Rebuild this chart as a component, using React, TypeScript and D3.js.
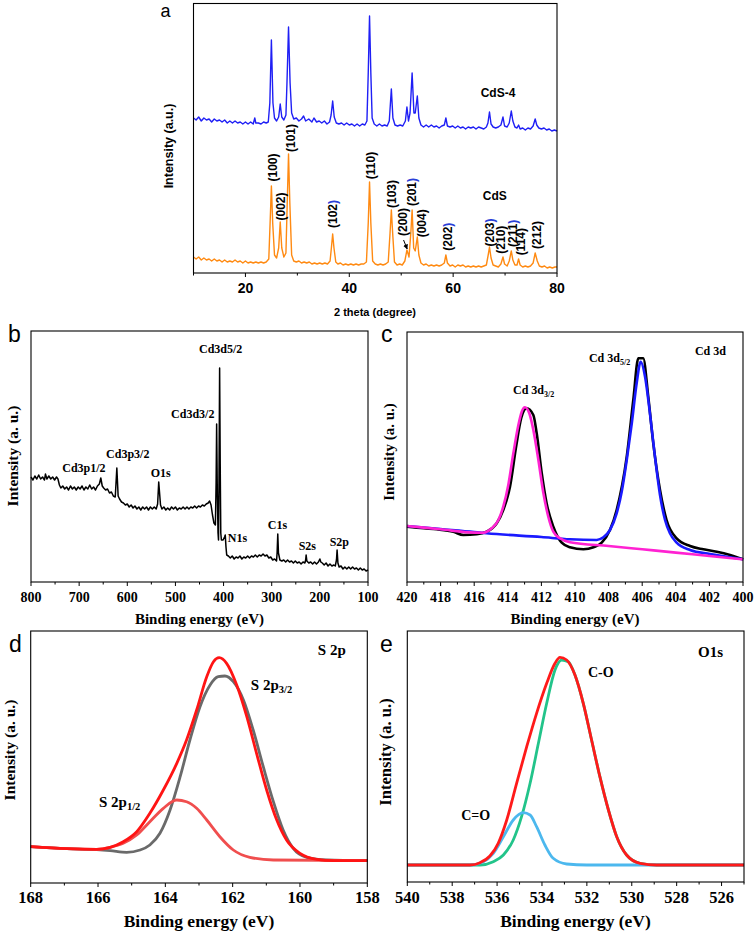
import React from 'react';
import * as d3 from 'd3';

type Pt = [number, number];

// ---------- Panel a: XRD ----------
const xrdCdS4: Pt[] = [
  [10,155],[10.5,153],[11,156],[11.5,152],[12,155],[12.5,153],[13,154],[13.5,151],[14,154],[14.5,152],[15,153],[15.5,151],[16,153],[16.5,150],[17,152],[17.5,150],[18,152],[18.5,150],[19,151],[19.5,149],[20,151],[20.5,149],[21,151],[21.5,149],[21.8,155],[22,150],[22.5,150],[23,149],[23.5,151],[24,150],[24.4,151],[24.7,170],[25.0,233],[25.3,170],[25.6,155],[26.0,152],[26.4,156],[26.7,169],[27.0,156],[27.4,153],[27.8,158],[28.0,190],[28.3,246],[28.6,190],[28.9,160],[29.3,154],[29.8,155],[30.3,152],[30.8,154],[31.2,157],[31.6,152],[32.2,154],[32.8,151],[33.2,155],[33.7,151],[34.2,152],[34.7,150],[35.2,152],[35.7,149],[36.2,151],[36.5,158],[36.8,172],[37.1,156],[37.5,150],[38,149],[38.5,150],[39,148],[39.5,150],[40,148],[40.5,149],[41,147],[41.5,149],[42,147],[42.5,149],[43,148],[43.4,152],[43.65,200],[43.9,257],[44.15,200],[44.4,155],[44.8,149],[45.3,147],[45.8,149],[46.3,147],[46.8,148],[47.3,147],[47.7,152],[48.1,184],[48.4,155],[48.8,148],[49.3,147],[49.8,148],[50.3,147],[50.8,152],[51.1,166],[51.4,152],[51.7,160],[52.1,200],[52.45,160],[52.7,160],[53.1,177],[53.4,155],[53.8,148],[54.3,146],[54.8,148],[55.3,146],[55.8,148],[56.3,146],[56.8,147],[57.3,145],[57.8,147],[58.3,148],[58.6,155],[58.9,147],[59.4,146],[59.9,147],[60.4,145],[60.9,147],[61.4,145],[61.9,146],[62.4,144],[62.9,146],[63.4,145],[63.9,146],[64.4,144],[64.9,146],[65.4,145],[65.9,144],[66.4,146],[66.7,150],[67.0,161],[67.3,149],[67.7,146],[68.2,145],[68.7,146],[69.2,148],[69.6,156],[69.9,147],[70.4,146],[70.8,150],[71.2,162],[71.5,152],[71.9,146],[72.3,145],[72.6,148],[72.9,144],[73.4,145],[73.9,143],[74.4,145],[74.9,144],[75.4,147],[75.8,154],[76.1,148],[76.5,145],[77,144],[77.5,145],[78,143],[78.5,144],[79,142],[79.5,143],[80,142]
];
const xrdCdS: Pt[] = [
  [10,16],[10.5,14],[11,16],[11.5,13],[12,15],[12.5,13],[13,14],[13.5,12],[14,14],[14.5,12],[15,13],[15.5,11],[16,13],[16.5,11],[17,12],[17.5,11],[18,13],[18.5,11],[19,12],[19.5,10],[20,12],[20.5,10],[21,11],[21.5,10],[22,11],[22.5,10],[23,11],[23.5,10],[24,11],[24.5,14],[24.75,50],[25.0,87],[25.25,50],[25.6,18],[26.0,15],[26.4,25],[26.7,51],[27.0,25],[27.4,16],[27.8,20],[28.05,70],[28.3,119],[28.55,70],[28.9,18],[29.3,12],[29.8,11],[30.3,12],[30.8,10],[31.3,11],[31.8,10],[32.3,11],[32.8,9],[33.3,10],[33.8,9],[34.3,10],[34.8,9],[35.3,10],[35.8,9],[36.3,12],[36.55,25],[36.8,39],[37.05,25],[37.4,11],[37.8,9],[38.3,10],[38.8,8],[39.3,9],[39.8,8],[40.3,9],[40.8,8],[41.3,9],[41.8,8],[42.3,9],[42.8,9],[43.3,11],[43.65,50],[43.9,91],[44.15,50],[44.5,12],[45,9],[45.5,8],[46,9],[46.5,8],[47,9],[47.5,11],[47.85,40],[48.1,63],[48.35,40],[48.7,11],[49.2,8],[49.7,9],[50.2,8],[50.7,12],[51.1,23],[51.5,16],[51.85,40],[52.1,63],[52.4,25],[52.7,22],[53.1,36],[53.4,18],[53.8,10],[54.3,8],[54.8,9],[55.3,7],[55.8,8],[56.3,7],[56.8,8],[57.3,7],[57.8,8],[58.3,10],[58.6,18],[58.9,10],[59.4,7],[59.9,8],[60.4,6],[60.9,8],[61.4,7],[61.9,8],[62.4,6],[62.9,7],[63.4,6],[63.9,7],[64.4,6],[64.9,7],[65.4,6],[65.9,7],[66.4,8],[66.75,18],[67.0,26],[67.3,15],[67.7,8],[68.2,7],[68.7,6],[69.2,9],[69.6,16],[69.9,9],[70.4,7],[70.8,12],[71.2,22],[71.5,13],[71.9,8],[72.3,8],[72.6,14],[72.9,8],[73.4,6],[73.9,7],[74.4,6],[74.9,7],[75.4,10],[75.8,20],[76.2,12],[76.6,7],[77.1,6],[77.6,7],[78.1,5],[78.6,6],[79.1,5],[79.6,6],[80,6]
];
// label, 2theta of label centre, intensity of label centre, closing paren blue
const xrdPeakLabels: [string, number, number, boolean][] = [
  ['(100)',25.39,105.5,false],['(002)',26.94,66.5,false],['(101)',28.8,135,false],['(102)',36.9,59,true],
  ['(110)',44.09,107.5,false],['(103)',48.19,79,false],['(200)',50.33,51,false],['(201)',52.12,81,true],
  ['(004)',53.92,49.7,false],['(202)',58.98,36.3,true],['(203)',67.02,40.5,true],['(210)',69.27,33.3,false],
  ['(211)',71.5,39.7,true],['(114)',73.1,31.3,false],['(212)',76.2,38,false]
];
const xrdArrow: Pt[] = [[50.45,33],[51.15,24]];
const xrdMajor = [20, 40, 60, 80];
const xrdMinor = [10, 30, 50, 70];
const xrdSeriesNames = ['CdS-4', 'CdS'];
const xrdSeriesLabelPos: Pt[] = [[65.3,176],[65.7,73]];

// ---------- Panel b: XPS survey ----------
const survey: Pt[] = [
  [800,106],[796,103],[792,107],[788,104],[784,108],[780,104],[776,106],[772,103],[770,109],[767,104],[763,107],[759,104],[755,106],[751,103],[747,106],[744,104],[741,98],[738,95],[734,97],[730,94],[726,96],[722,93],[718,97],[714,94],[710,96],[706,93],[702,96],[698,94],[694,97],[690,93],[686,96],[682,94],[678,98],[674,94],[670,96],[666,93],[662,97],[658,99],[655,105],[652,97],[649,95],[645,93],[641,94],[637,90],[633,91],[629,87],[625,86],[621.7,115],[619,87],[616,84],[612,81],[608,80],[604,78],[600,79],[596,76],[592,78],[588,75],[584,77],[580,74],[576,76],[572,73],[568,76],[564,74],[560,76],[556,73],[552,76],[548,74],[544,76],[540,74],[537,79],[534.7,101],[531,78],[528,74],[524,76],[520,73],[516,75],[512,73],[508,76],[504,74],[500,76],[496,73],[492,75],[488,74],[484,76],[480,74],[476,76],[472,74],[468,76],[464,75],[460,77],[456,75],[452,77],[448,76],[444,78],[440,77],[436,79],[432,80],[429,82],[426,78],[423,68],[420,60],[417,58],[415.5,100],[414.4,159],[413,90],[411.5,50],[410.5,43],[409.5,100],[408.2,215],[407,120],[405.8,50],[404.5,43],[401,43],[398,46],[396.5,48],[395,36],[393.5,28],[390,27],[386,25],[382,27],[378,24],[374,26],[370,25],[366,27],[362,24],[358,26],[354,25],[350,27],[346,25],[342,27],[338,26],[334,28],[330,26],[326,28],[322,27],[318,29],[314,27],[310,28],[306,25],[302,26],[298,23],[294,24],[290,22],[288.8,30],[287.4,49],[286,30],[283,23],[279,22],[275,23],[271,21],[267,23],[263,21],[259,22],[255,20],[251,22],[247,20],[243,21],[239,19],[235,21],[231,20],[229.5,23],[228.5,28],[227,22],[223,20],[219,21],[215,19],[211,21],[207,19],[203,21],[200,24],[198,21],[195,20],[191,18],[187,20],[183,17],[179,19],[175,17],[171,18],[168,17],[165.5,23],[164.2,33],[162.5,20],[160,16],[156,17],[152,14],[148,16],[144,14],[140,16],[136,14],[132,16],[128,14],[124,15],[120,13],[116,15],[112,13],[108,14],[104,12],[100,13]
];
const surveyLabels: [string, number, number][] = [
  ['Cd3d5/2',406,230],['Cd3d3/2',464,165],['Cd3p3/2',599,125],['Cd3p1/2',690,111],['O1s',530.5,106],
  ['N1s',371,41],['C1s',288,54],['S2s',226,33],['S2p',159.5,37]
];
const surveyMajor = [800, 700, 600, 500, 400, 300, 200, 100];
const surveyMinor = [750, 650, 550, 450, 350, 250, 150];

// ---------- Panel c: Cd 3d ----------
const cdRaw: Pt[] = [
  [420,54.3],[419,52.7],[418.23,51.7],[417.24,49.3],[416.65,46],[415.85,46.7],[415.26,49.3],[414.66,57.7],[414.27,71],[413.87,94.3],[413.5,135],[413.2,163],[412.88,172.7],[412.48,166],[412.28,147.7],[411.98,107.7],[411.69,77.7],[411.29,54.3],[410.79,38.3],[410.3,33.7],[409.5,31.7],[408.9,33.7],[408.41,38.3],[407.92,51],[407.52,71],[406.92,124.3],[406.53,181],[406.23,222.7],[405.94,222.7],[405.64,184.3],[405.34,137.7],[404.94,91],[404.55,61],[403.95,42.7],[403.15,35],[402.36,31.7],[401.56,29.3],[400.77,26],[400,21.7]
];
const cd52Fit: Pt[] = [
  [420,55],[418,52],[416,49],[415.26,47.7],[412,44],[410.3,41.7],[408.71,41],[408.31,43.7],[407.92,51],[407.52,67.7],[407.22,89.3],[406.92,121],[406.62,157.7],[406.33,197.7],[406.09,219.3],[405.83,204.3],[405.54,167.7],[405.24,124.3],[404.94,86],[404.64,61],[404.35,47.7],[403.95,38.3],[403.15,31],[401.96,27],[399.98,21.7]
];
const cd32Fit: Pt[] = [
  [420,55],[418,51.7],[416,48.4],[415.46,48.3],[414.96,52.7],[414.56,61],[414.27,74.3],[413.97,96],[413.67,127.7],[413.37,156],[413.17,169.3],[412.98,173.7],[412.72,167.7],[412.48,151],[412.18,121],[411.88,87.7],[411.59,64.3],[411.29,49.3],[410.89,42.7],[410.3,38.8],[408,35],[406,31.7],[404,28.4],[402,25],[400,21.7]
];
const cdMajor = [420, 418, 416, 414, 412, 410, 408, 406, 404, 402, 400];
const cdMinor = [419, 417, 415, 413, 411, 409, 407, 405, 403, 401];

// ---------- Panel d: S 2p ----------
const s2pEnvelope: Pt[] = [
  [168,36.3],[166.93,34.3],[166.04,33.7],[165.64,35.7],[165.25,41.3],[164.85,51.3],[164.46,69.7],[164.06,93],[163.66,119.7],[163.37,143],[163.07,173],[162.77,206.3],[162.57,221.3],[162.4,225.3],[162.18,219.7],[161.88,198],[161.58,166.3],[161.29,129.7],[160.99,93],[160.69,63],[160.4,43],[160.0,29.7],[159.5,23.7],[159.01,22.3],[158,22.3]
];
const s2p32: Pt[] = [
  [168,36.3],[166.93,34.3],[166.04,33.3],[165.64,32.3],[165.15,30.7],[164.75,33],[164.46,38],[164.16,49.7],[163.86,73],[163.56,106.3],[163.27,143],[162.97,176.3],[162.67,198],[162.43,206.3],[162.23,207],[161.98,201.3],[161.68,183],[161.39,153],[161.09,116.3],[160.79,81.3],[160.5,53],[160.2,34.7],[159.8,25.7],[159.21,23],[158,22.3]
];
const s2p12: Pt[] = [
  [168,36.3],[166.93,34.3],[166.04,33.7],[165.64,35.7],[165.25,39.7],[164.85,48],[164.46,61.3],[164.06,74.7],[163.66,83],[163.37,81.3],[163.07,74.7],[162.77,63],[162.38,46.3],[161.98,33],[161.49,25.7],[160.79,23],[158,22.3]
];
const sMajor = [168, 166, 164, 162, 160, 158];
const sMinor = [167, 165, 163, 161, 159];

// ---------- Panel e: O1s ----------
const o1sEnvelope: Pt[] = [
  [540,17],[537.21,17],[536.76,19.3],[536.32,26],[535.95,38.7],[535.57,62],[535.13,98.7],[534.68,135.3],[534.24,168.7],[533.79,198.7],[533.42,218.7],[533.2,224.7],[532.9,222],[532.53,207],[532.16,178.7],[531.79,142],[531.42,105.3],[531.04,72],[530.67,45.3],[530.23,27],[529.63,18.7],[528.89,17],[525,17]
];
const o1sCO: Pt[] = [
  [540,17],[536.76,17],[536.17,20.3],[535.72,27],[535.28,42],[534.91,65.3],[534.53,98.7],[534.16,138.7],[533.79,178.7],[533.42,212],[533.12,222],[532.83,220.3],[532.53,207],[532.16,178.7],[531.79,142],[531.42,105.3],[531.04,72],[530.67,45.3],[530.23,27],[529.63,18.7],[528.89,17],[525,17]
];
const o1sCdO: Pt[] = [
  [540,17],[537.21,17],[536.61,20.3],[536.17,28.7],[535.72,45.3],[535.28,62],[534.83,69.3],[534.53,67],[534.24,55.3],[533.87,37],[533.5,23.7],[532.9,18],[532.0,17],[525,17]
];
const oMajor = [540, 538, 536, 534, 532, 530, 528, 526];
const oMinor = [539, 537, 535, 533, 531, 529, 527, 525];

const SERIF = "'Liberation Serif','Times New Roman',serif";
const SANS = "'Liberation Sans',Arial,sans-serif";

type Sc = d3.ScaleLinear<number, number>;

function mkLine(x: Sc, y: Sc, curve: d3.CurveFactory) {
  return d3.line<Pt>().x(d => x(d[0])).y(d => y(d[1])).curve(curve);
}

function Axis(props: {
  x: Sc; y0: number; major: number[]; minor: number[]; font: string; size: number; labelY: number;
}) {
  const { x, y0, major, minor, font, size, labelY } = props;
  return (
    <g>
      {major.map(t => (
        <line key={'M' + t} x1={x(t)} x2={x(t)} y1={y0} y2={y0 + 4} stroke="#000" strokeWidth={1} />
      ))}
      {minor.map(t => (
        <line key={'m' + t} x1={x(t)} x2={x(t)} y1={y0} y2={y0 + 2.5} stroke="#000" strokeWidth={1} />
      ))}
      {major.map(t => (
        <text key={'L' + t} x={x(t)} y={labelY} textAnchor="middle" fontFamily={font} fontWeight="bold" fontSize={size}>
          {t}
        </text>
      ))}
    </g>
  );
}

function Frame({ x0, x1, y0, y1 }: { x0: number; x1: number; y0: number; y1: number }) {
  return <rect x={x0} y={y0} width={x1 - x0} height={y1 - y0} fill="none" stroke="#000" strokeWidth={1.1} />;
}

function YLabel({ x, y, text, font, size }: { x: number; y: number; text: string; font: string; size: number }) {
  return (
    <text transform={`translate(${x},${y}) rotate(-90)`} textAnchor="middle" dominantBaseline="central"
      fontFamily={font} fontWeight="bold" fontSize={size}>{text}</text>
  );
}

function PanelLetter({ x, y, t, size = 23 }: { x: number; y: number; t: string; size?: number }) {
  return <text x={x} y={y} fontFamily={SANS} fontSize={size}>{t}</text>;
}

export default function App() {
  // Panel a
  const ax = d3.scaleLinear().domain([10, 80]).range([193.5, 557]);
  const ay = d3.scaleLinear().domain([0, 270]).range([273, 3]);
  const aLine = mkLine(ax, ay, d3.curveLinear);

  // Panel b
  const bx = d3.scaleLinear().domain([800, 100]).range([31, 368]);
  const by = d3.scaleLinear().domain([0, 252]).range([583, 331]);
  const bLine = mkLine(bx, by, d3.curveLinear);

  // Panel c
  const cx = d3.scaleLinear().domain([420, 400]).range([407, 743]);
  const cy = d3.scaleLinear().domain([0, 250]).range([581, 331]);
  const cLine = mkLine(cx, cy, d3.curveMonotoneX);

  // Panel d
  const dx = d3.scaleLinear().domain([168, 158]).range([30.7, 367.3]);
  const dy = d3.scaleLinear().domain([0, 252]).range([883, 631]);
  const dLine = mkLine(dx, dy, d3.curveMonotoneX);

  // Panel e
  const ex = d3.scaleLinear().domain([540, 525]).range([407.3, 744]);
  const ey = d3.scaleLinear().domain([0, 251]).range([882, 631]);
  const eLine = mkLine(ex, ey, d3.curveMonotoneX);

  const lbl = (font: string, size: number) => ({ fontFamily: font, fontWeight: 'bold' as const, fontSize: size });

  return (
    <svg width={756} height={935} style={{ position: 'absolute', left: 0, top: 0, background: '#fff' }}>
      <rect x={0} y={0} width={756} height={935} fill="#fff" />
      <defs>
        <marker id="arr" viewBox="0 0 10 10" refX="9" refY="5" markerWidth="5" markerHeight="5" orient="auto">
          <path d="M0,0 L10,5 L0,10 z" fill="#000" />
        </marker>
      </defs>

      {/* ---------- a ---------- */}
      <g>
        <path d={aLine(xrdCdS4) || ''} fill="none" stroke="#1f1ff5" strokeWidth={1.4} strokeLinejoin="round" />
        <path d={aLine(xrdCdS) || ''} fill="none" stroke="#ff8a12" strokeWidth={1.4} strokeLinejoin="round" />
        <Frame x0={193.5} x1={557} y0={3.5} y1={273} />
        <Axis x={ax} y0={273} major={xrdMajor} minor={xrdMinor} font={SANS} size={14} labelY={292.5} />
        <text x={375} y={316} textAnchor="middle" {...lbl(SANS, 11)}>2 theta (degree)</text>
        <YLabel x={169} y={146} text="Intensity (a.u.)" font={SANS} size={12.5} />
        <PanelLetter x={160.5} y={16.5} t="a" size={18} />
        {xrdSeriesNames.map((n, i) => (
          <text key={n} x={ax(xrdSeriesLabelPos[i][0])} y={ay(xrdSeriesLabelPos[i][1])} {...lbl(SANS, 12)}>{n}</text>
        ))}
        {xrdPeakLabels.map(([t, p, v, blue]) => (
          <text key={t} transform={`translate(${ax(p)},${ay(v)}) rotate(-90)`} textAnchor="middle"
            dominantBaseline="central" {...lbl(SANS, 12)}>
            {t.slice(0, -1)}<tspan fill={blue ? '#2a3fd8' : '#000'}>)</tspan>
          </text>
        ))}
        <line x1={ax(xrdArrow[0][0])} y1={ay(xrdArrow[0][1])} x2={ax(xrdArrow[1][0])} y2={ay(xrdArrow[1][1])}
          stroke="#000" strokeWidth={1} markerEnd="url(#arr)" />
      </g>

      {/* ---------- b ---------- */}
      <g>
        <path d={bLine(survey) || ''} fill="none" stroke="#000" strokeWidth={1.5} strokeLinejoin="round" />
        <Frame x0={31} x1={368} y0={331} y1={582} />
        <Axis x={bx} y0={582} major={surveyMajor} minor={surveyMinor} font={SERIF} size={14} labelY={602} />
        <text x={199.5} y={624} textAnchor="middle" {...lbl(SERIF, 15)}>Binding energy (eV)</text>
        <YLabel x={12} y={456} text="Intensity (a. u.)" font={SERIF} size={15.5} />
        <PanelLetter x={8} y={342} t="b" />
        {surveyLabels.map(([t, e, v]) => (
          <text key={t} x={bx(e)} y={by(v)} textAnchor="middle" {...lbl(SERIF, 12)}>{t}</text>
        ))}
      </g>

      {/* ---------- c ---------- */}
      <g>
        <path d={cLine(cdRaw) || ''} fill="none" stroke="#000" strokeWidth={2.6} />
        <path d={cLine(cd52Fit) || ''} fill="none" stroke="#1a1aff" strokeWidth={2.6} />
        <path d={cLine(cd32Fit) || ''} fill="none" stroke="#ff22d2" strokeWidth={2.6} />
        <Frame x0={407} x1={743} y0={332} y1={582} />
        <Axis x={cx} y0={582} major={cdMajor} minor={cdMinor} font={SERIF} size={14} labelY={602} />
        <text x={575} y={624} textAnchor="middle" {...lbl(SERIF, 15)}>Binding energy (eV)</text>
        <YLabel x={389} y={452} text="Intensity (a. u.)" font={SERIF} size={15} />
        <PanelLetter x={381} y={342} t="c" />
        <text x={cx(413.69)} y={cy(187)} {...lbl(SERIF, 12)}>Cd 3d<tspan fontSize={8} dy={3}>3/2</tspan></text>
        <text x={cx(409.17)} y={cy(219)} {...lbl(SERIF, 12)}>Cd 3d<tspan fontSize={8} dy={3}>5/2</tspan></text>
        <text x={cx(402.86)} y={cy(226)} {...lbl(SERIF, 12)}>Cd 3d</text>
      </g>

      {/* ---------- d ---------- */}
      <g>
        <path d={dLine(s2p32) || ''} fill="none" stroke="#6a6a6a" strokeWidth={2.8} />
        <path d={dLine(s2p12) || ''} fill="none" stroke="#f04e4e" strokeWidth={2.8} />
        <path d={dLine(s2pEnvelope) || ''} fill="none" stroke="#ff1414" strokeWidth={2.8} />
        <Frame x0={30.7} x1={367.3} y0={631} y1={883} />
        <Axis x={dx} y0={883} major={sMajor} minor={sMinor} font={SERIF} size={16.5} labelY={902.5} />
        <text x={199} y={927} textAnchor="middle" {...lbl(SERIF, 17.5)}>Binding energy (eV)</text>
        <YLabel x={9} y={750} text="Intensity (a. u.)" font={SERIF} size={15.5} />
        <PanelLetter x={9} y={652} t="d" />
        <text x={dx(159.47)} y={dy(228)} {...lbl(SERIF, 15)}>S 2p</text>
        <text x={dx(161.46)} y={dy(193)} {...lbl(SERIF, 15)}>S 2p<tspan fontSize={10.5} dy={3}>3/2</tspan></text>
        <text x={dx(165.97)} y={dy(76)} {...lbl(SERIF, 15)}>S 2p<tspan fontSize={10.5} dy={3}>1/2</tspan></text>
      </g>

      {/* ---------- e ---------- */}
      <g>
        <path d={eLine(o1sCO) || ''} fill="none" stroke="#22c48a" strokeWidth={2.8} />
        <path d={eLine(o1sCdO) || ''} fill="none" stroke="#4cb8ee" strokeWidth={2.8} />
        <path d={eLine(o1sEnvelope) || ''} fill="none" stroke="#ff1a1a" strokeWidth={2.8} />
        <Frame x0={407.3} x1={744} y0={631} y1={882} />
        <Axis x={ex} y0={882} major={oMajor} minor={oMinor} font={SERIF} size={16.5} labelY={902.5} />
        <text x={575.5} y={927} textAnchor="middle" {...lbl(SERIF, 17.5)}>Binding energy (eV)</text>
        <YLabel x={385} y={752} text="Intensity (a. u.)" font={SERIF} size={16.5} />
        <PanelLetter x={380} y={652} t="e" />
        <text x={ex(527.05)} y={ey(225)} {...lbl(SERIF, 15)}>O1s</text>
        <text x={ex(531.95)} y={ey(205)} {...lbl(SERIF, 14)}>C-O</text>
        <text x={ex(537.6)} y={ey(62)} {...lbl(SERIF, 14)}>C=O</text>
      </g>
    </svg>
  );
}
